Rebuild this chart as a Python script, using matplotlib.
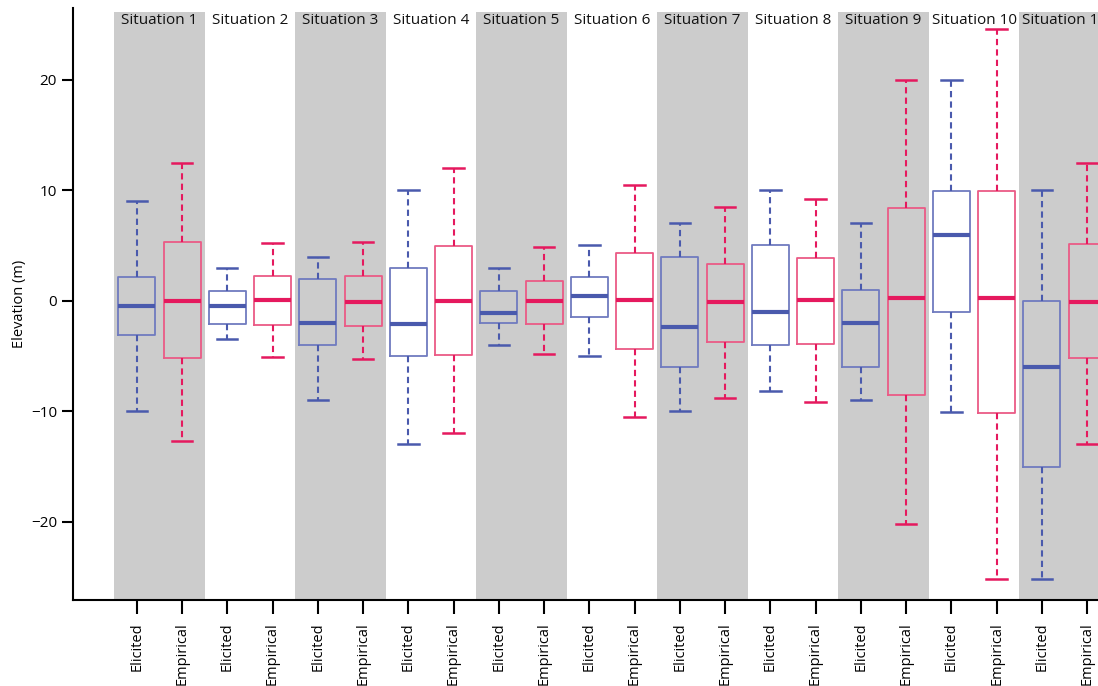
import numpy as np
import matplotlib
matplotlib.use("Agg")
import matplotlib.pyplot as plt

plt.rcParams['font.family'] = ['Open Sans', 'DejaVu Sans']

situations = [f"Situation {i}" for i in range(1, 12)]
groups = ["Elicited", "Empirical"]

# five-number summaries: low whisker, Q1, median, Q3, high whisker
elicited_low = [-10, -3.5, -9, -13, -4, -5, -10, -8.2, -9, -10.1, -25.2]
elicited_q1 = [-3.1, -2.1, -4.0, -5.0, -2.0, -1.5, -6.0, -4.0, -6.0, -1.0, -15.1]
elicited_med = [-0.5, -0.5, -2.0, -2.1, -1.1, 0.45, -2.4, -1.0, -2.0, 5.95, -6.0]
elicited_q3 = [2.1, 0.9, 2.0, 3.0, 0.88, 2.1, 4.0, 5.0, 1.0, 9.96, -0.05]
elicited_high = [9.0, 3.0, 4.0, 10.0, 3.0, 5.0, 7.0, 10.0, 7.0, 20.0, 10.0]

empirical_low = [-12.7, -5.1, -5.3, -12.0, -4.8, -10.5, -8.8, -9.2, -20.2, -25.2, -13.0]
empirical_q1 = [-5.2, -2.2, -2.3, -4.95, -2.1, -4.35, -3.7, -3.9, -8.5, -10.2, -5.2]
empirical_med = [0.0, 0.1, -0.15, 0.0, -0.05, 0.1, -0.1, 0.1, 0.25, 0.25, -0.15]
empirical_q3 = [5.3, 2.2, 2.2, 4.95, 1.8, 4.3, 3.35, 3.9, 8.35, 9.9, 5.1]
empirical_high = [12.5, 5.25, 5.3, 12.0, 4.9, 10.5, 8.5, 9.2, 20.0, 24.6, 12.5]

blue = "#4a5aad"
blue_edge = "#6f7bbf"
pink = "#e5195e"
pink_edge = "#eb5a86"
band_gray = "#cccccc"

fig = plt.figure(figsize=(10.98, 6.86), dpi=100)
ax = fig.add_axes([73 / 1098, 86 / 686, 1 - 73 / 1098, 592 / 686])

ymin, ymax = -27.1, 26.5
band_top = 26.1
ax.set_ylim(ymin, ymax)
ax.set_xlim(-1.41, 21.24)

# alternating gray bands behind odd situations
for i, name in enumerate(situations):
    if i % 2 == 0:
        ax.axvspan(2 * i - 0.5, 2 * i + 1.5, ymin=0,
                   ymax=(band_top - ymin) / (ymax - ymin),
                   color=band_gray, lw=0, zorder=0)
    ax.text(2 * i + 0.5, 25.4, name, ha="center", va="center",
            fontsize=11, color="#111111", zorder=3)


def draw(stats_cols, offset, col, edge):
    stats = []
    for lo, q1, med, q3, hi in zip(*stats_cols):
        stats.append(dict(whislo=lo, q1=q1, med=med, q3=q3, whishi=hi, fliers=[]))
    pos = [2 * i + offset for i in range(len(stats))]
    ax.bxp(stats, positions=pos, widths=0.82, capwidths=0.45, showfliers=False,
           boxprops=dict(color=edge, lw=1.3),
           medianprops=dict(color=col, lw=3, solid_capstyle="butt"),
           whiskerprops=dict(color=col, lw=1.5, linestyle=(0, (3, 2))),
           capprops=dict(color=col, lw=1.8),
           manage_ticks=False, zorder=2)


draw([elicited_low, elicited_q1, elicited_med, elicited_q3, elicited_high], 0, blue, blue_edge)
draw([empirical_low, empirical_q1, empirical_med, empirical_q3, empirical_high], 1, pink, pink_edge)

ax.set_xticks(np.arange(2 * len(situations)))
ax.set_xticklabels(groups * len(situations), rotation=90, fontsize=10.5)
ax.set_yticks([-20, -10, 0, 10, 20])
ax.tick_params(axis="y", labelsize=11, length=8, width=1.5)
ax.tick_params(axis="x", length=10, width=1.5, pad=6)
ax.set_ylabel("Elevation (m)", fontsize=10.5)
ax.yaxis.set_label_coords(-0.045, 0.5)

for s in ["top", "right"]:
    ax.spines[s].set_visible(False)
for s in ["left", "bottom"]:
    ax.spines[s].set_linewidth(1.5)

fig.savefig("out.png", dpi=100)
